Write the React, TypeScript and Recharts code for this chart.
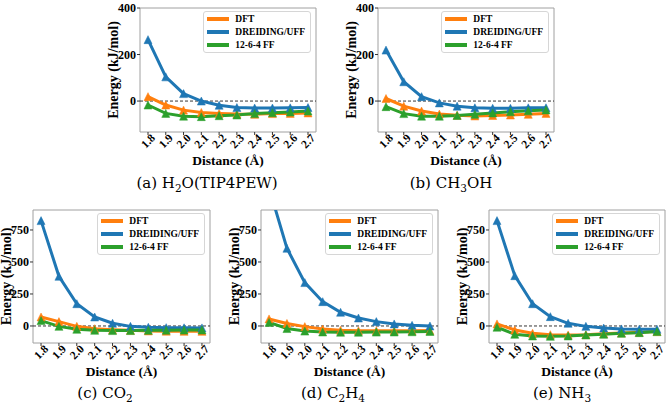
import React from "react";
import {
  Legend,
  Line,
  LineChart,
  ReferenceArea,
  ReferenceLine,
  XAxis,
  YAxis,
} from "recharts";

// distances (Å) on the x axis
const distances = [1.8, 1.9, 2.0, 2.1, 2.2, 2.3, 2.4, 2.5, 2.6, 2.7];
const seriesNames = ["DFT", "DREIDING/UFF", "12-6-4 FF"];

// (a) H2O(TIP4PEW)
const h2oDft = [19, -17, -39, -49, -53, -56, -57, -54, -53, -51];
const h2oDreiding = [264, 104, 32, 0, -18, -28, -30, -30, -29, -28];
const h2oFF = [-17, -53, -65, -67, -63, -60, -54, -50, -47, -43];

// (b) CH3OH
const ch3ohDft = [11, -22, -43, -56, -61, -64, -62, -60, -57, -53];
const ch3ohDreiding = [219, 83, 19, -8, -22, -29, -31, -31, -29, -29];
const ch3ohFF = [-24, -54, -65, -65, -62, -57, -51, -46, -42, -38];

// (c) CO2
const co2Dft = [70, 34, -3, -21, -29, -34, -39, -41, -42, -42];
const co2Dreiding = [823, 388, 174, 70, 21, -3, -10, -13, -14, -15];
const co2FF = [42, -3, -26, -34, -36, -36, -34, -33, -32, -31];

// (d) C2H4
const c2h4Dft = [55, 20, -5, -24, -33, -37, -38, -38, -37, -36];
const c2h4Dreiding = [1080, 607, 339, 190, 107, 62, 34, 16, 5, 0];
const c2h4FF = [28, -20, -40, -47, -49, -49, -48, -47, -45, -43];

// (e) NH3
const nh3Dft = [16, -31, -57, -68, -70, -68, -60, -55, -49, -44];
const nh3Dreiding = [823, 393, 174, 73, 21, -3, -16, -23, -26, -26];
const nh3FF = [-10, -65, -78, -81, -78, -70, -65, -57, -52, -44];

const topTicks = [0, 200, 400];
const bottomTicks = [0, 250, 500, 750];

const ORANGE = "#ff7f0e";
const BLUE = "#1f77b4";
const GREEN = "#2ca02c";
const SERIF = "'Liberation Serif', Tinos, 'Times New Roman', Times, serif";

const X_DOMAIN: [number, number] = [1.755, 2.745];
const TOP_PAD = 8;

const buildRows = (dft: number[], dreiding: number[], ff: number[]) =>
  distances.map((d, i) => ({ d, dft: dft[i], dreiding: dreiding[i], ff: ff[i] }));

type Panel = {
  key: string;
  rows: ReturnType<typeof buildRows>;
  yDomain: [number, number];
  yTicks: number[];
  plot: { left: number; top: number; right: number; bottom: number };
};

const panels: Panel[] = [
  {
    key: "a",
    rows: buildRows(h2oDft, h2oDreiding, h2oFF),
    yDomain: [-133, 400],
    yTicks: topTicks,
    plot: { left: 140, top: 8, right: 316, bottom: 132 },
  },
  {
    key: "b",
    rows: buildRows(ch3ohDft, ch3ohDreiding, ch3ohFF),
    yDomain: [-133, 400],
    yTicks: topTicks,
    plot: { left: 378, top: 8, right: 554, bottom: 132 },
  },
  {
    key: "c",
    rows: buildRows(co2Dft, co2Dreiding, co2FF),
    yDomain: [-133, 906],
    yTicks: bottomTicks,
    plot: { left: 33, top: 210, right: 210, bottom: 343 },
  },
  {
    key: "d",
    rows: buildRows(c2h4Dft, c2h4Dreiding, c2h4FF),
    yDomain: [-133, 906],
    yTicks: bottomTicks,
    plot: { left: 261, top: 210, right: 438, bottom: 343 },
  },
  {
    key: "e",
    rows: buildRows(nh3Dft, nh3Dreiding, nh3FF),
    yDomain: [-133, 906],
    yTicks: bottomTicks,
    plot: { left: 489, top: 210, right: 665, bottom: 343 },
  },
];

const captions = [
  { x: 207, y: 185, label: "(a) H", sub: "2", rest: "O(TIP4PEW)" },
  { x: 451, y: 185, label: "(b) CH", sub: "3", rest: "OH" },
  { x: 105, y: 395, label: "(c) CO", sub: "2", rest: "" },
  { x: 333, y: 395, label: "(d) C", sub: "2", rest: "H", sub2: "4" },
  { x: 562, y: 395, label: "(e) NH", sub: "3", rest: "" },
];

const triangle = (color: string) => (props: any) => {
  const { cx, cy, index } = props;
  if (cx == null || cy == null) return <g key={index} />;
  const r = 4;
  return (
    <polygon
      key={index}
      points={`${cx},${cy - r} ${cx - r},${cy + r} ${cx + r},${cy + r}`}
      fill={color}
      stroke={color}
      strokeWidth={0.5}
    />
  );
};

const XTick = ({ x, y, payload }: any) => {
  const cy = y + 4;
  return (
    <text
      x={x}
      y={cy}
      transform={`rotate(-45 ${x} ${cy})`}
      textAnchor="middle"
      dominantBaseline="central"
      fontFamily={SERIF}
      fontWeight="bold"
      fontSize={11.5}
      fill="#000"
    >
      {Number(payload.value).toFixed(1)}
    </text>
  );
};

const XTitle = ({ viewBox }: any) => {
  const cx = viewBox.x + viewBox.width / 2;
  const cy = viewBox.y + 28;
  return (
    <text
      x={cx}
      y={cy}
      textAnchor="middle"
      dominantBaseline="central"
      fontFamily={SERIF}
      fontWeight="bold"
      fontSize={13.5}
      fill="#000"
    >
      Distance (Å)
    </text>
  );
};

const YTitle = ({ viewBox }: any) => {
  const cx = viewBox.x + viewBox.width - 27;
  const cy = viewBox.y + viewBox.height / 2;
  return (
    <text
      x={cx}
      y={cy}
      transform={`rotate(-90 ${cx} ${cy})`}
      textAnchor="middle"
      dominantBaseline="central"
      fontFamily={SERIF}
      fontWeight="bold"
      fontSize={14}
      fill="#000"
    >
      Energy (kJ/mol)
    </text>
  );
};

const LegendBox = ({ payload }: any) => {
  const items = [...(payload || [])].sort(
    (p: any, q: any) => seriesNames.indexOf(p.value) - seriesNames.indexOf(q.value)
  );
  return (
    <div
      style={{
        border: "1px solid #d6d6d6",
        borderRadius: 3,
        background: "rgba(255,255,255,0.85)",
        padding: "1px 5px 1px 3px",
      }}
    >
      {items.map((entry: any) => (
        <div
          key={entry.value}
          style={{ display: "flex", alignItems: "center", height: 12.8 }}
        >
          <span
            style={{
              display: "inline-block",
              width: 22,
              height: 4,
              background: entry.color,
              marginRight: 6,
            }}
          />
          <span
            style={{
              fontFamily: SERIF,
              fontWeight: "bold",
              fontSize: 9.5,
              color: "#000",
              whiteSpace: "nowrap",
            }}
          >
            {entry.value}
          </span>
        </div>
      ))}
    </div>
  );
};

const EnergyPanel = ({ panel }: { panel: Panel }) => {
  const { plot } = panel;
  const width = plot.right - plot.left + 50;
  const height = plot.bottom - plot.top + TOP_PAD + 45;
  return (
    <div style={{ position: "absolute", left: plot.left - 45, top: plot.top - TOP_PAD }}>
      <LineChart
        width={width}
        height={height}
        data={panel.rows}
        margin={{ top: TOP_PAD, right: 5, bottom: 0, left: 0 }}
      >
        <XAxis
          dataKey="d"
          type="number"
          domain={X_DOMAIN}
          ticks={distances}
          axisLine={false}
          tickSize={3}
          tickMargin={2}
          tickLine={{ stroke: "#333" }}
          tick={<XTick />}
          height={45}
          interval={0}
          label={<XTitle />}
        />
        <YAxis
          type="number"
          domain={panel.yDomain}
          ticks={panel.yTicks}
          allowDataOverflow
          axisLine={false}
          tickSize={3}
          tickMargin={1}
          tickLine={{ stroke: "#333" }}
          tick={{ fontFamily: SERIF, fontWeight: "bold", fontSize: 12, fill: "#000" }}
          width={45}
          interval={0}
          label={<YTitle />}
        />
        <ReferenceArea
          x1={X_DOMAIN[0]}
          x2={X_DOMAIN[1]}
          y1={panel.yDomain[0]}
          y2={panel.yDomain[1]}
          fill="none"
          stroke="#a0a0a0"
          strokeWidth={1}
        />
        <ReferenceLine y={0} stroke="#000" strokeWidth={0.8} strokeDasharray="3 2" />
        <Legend
          layout="vertical"
          align="center"
          verticalAlign="middle"
          content={<LegendBox />}
          wrapperStyle={{ top: TOP_PAD + 3, right: 10, left: "auto", width: "auto", height: "auto" }}
        />
        <Line
          dataKey="dft"
          name="DFT"
          stroke={ORANGE}
          strokeWidth={3}
          dot={triangle(ORANGE)}
          activeDot={false}
          isAnimationActive={false}
        />
        <Line
          dataKey="dreiding"
          name="DREIDING/UFF"
          stroke={BLUE}
          strokeWidth={3}
          dot={triangle(BLUE)}
          activeDot={false}
          isAnimationActive={false}
        />
        <Line
          dataKey="ff"
          name="12-6-4 FF"
          stroke={GREEN}
          strokeWidth={3}
          dot={triangle(GREEN)}
          activeDot={false}
          isAnimationActive={false}
        />
      </LineChart>
    </div>
  );
};

export default function App() {
  return (
    <div
      style={{
        position: "absolute",
        left: 0,
        top: 0,
        width: 666,
        height: 407,
        overflow: "hidden",
        background: "#fff",
      }}
    >
      {panels.map((p) => (
        <EnergyPanel key={p.key} panel={p} />
      ))}
      {captions.map((c) => (
        <div
          key={c.label}
          style={{
            position: "absolute",
            left: c.x,
            top: c.y,
            transform: "translate(-50%, -50%)",
            fontFamily: "'DejaVu Serif', serif",
            fontSize: 15,
            color: "#000",
            whiteSpace: "nowrap",
            lineHeight: 1,
          }}
        >
          {c.label}
          <sub style={{ fontSize: 10.5 }}>{c.sub}</sub>
          {c.rest}
          {c.sub2 ? <sub style={{ fontSize: 10.5 }}>{c.sub2}</sub> : null}
        </div>
      ))}
    </div>
  );
}
